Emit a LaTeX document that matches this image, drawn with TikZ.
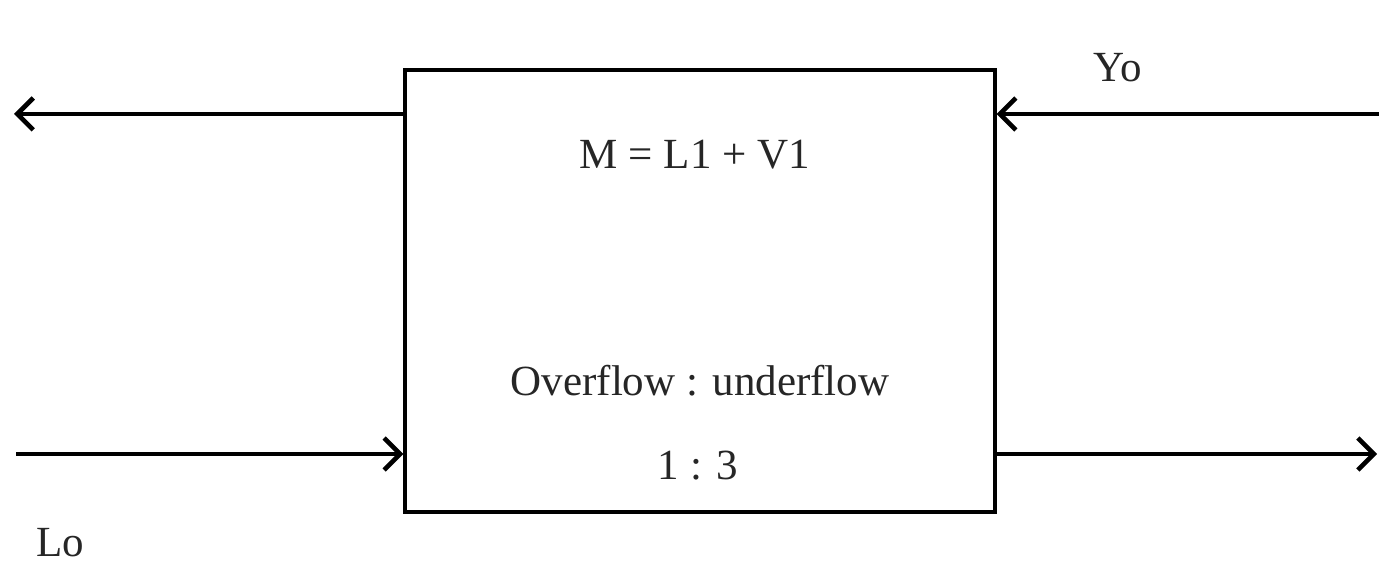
\documentclass[tikz,border=0pt]{standalone}
\usepackage{fontspec}
\setmainfont{Liberation Serif}
\usetikzlibrary{arrows.meta}
\begin{document}
\begin{tikzpicture}[x=0.5pt,y=-0.5pt,
  flow/.style={line width=2.4pt,-{Straight Barb[length=8pt,width=16pt,line width=2.3pt]}},
  lbl/.style={font=\fontsize{21.5}{24}\selectfont,inner sep=0pt,text=black!85},
  blk/.style={draw,line width=1.6pt,minimum width=295pt,minimum height=221pt,inner sep=0pt}]
\useasboundingbox (0,0) rectangle (1379,566);
\node[blk] (box) at (700,291) {};
\coordinate (tl) at (14,114);
\coordinate (tr) at (1379,114);
\coordinate (bl) at (16,454);
\coordinate (br) at (1377,454);
\draw[flow] (box.west |- tl) -- (tl);
\draw[flow] (tr) -- (box.east |- tr);
\draw[flow] (bl) -- (box.west |- bl);
\draw[flow] (box.east |- br) -- (br);
\node[lbl] (m) at (695,155) {M = L1 + V1};
\node[lbl] (of) at (700,381) {Overflow : underflow};
\node[lbl] (r) at (698,466) {1 : 3};
\node[lbl] (yo) at (1118,68) {Yo};
\node[lbl] (lo) at (60,543) {Lo};
\end{tikzpicture}
\end{document}
